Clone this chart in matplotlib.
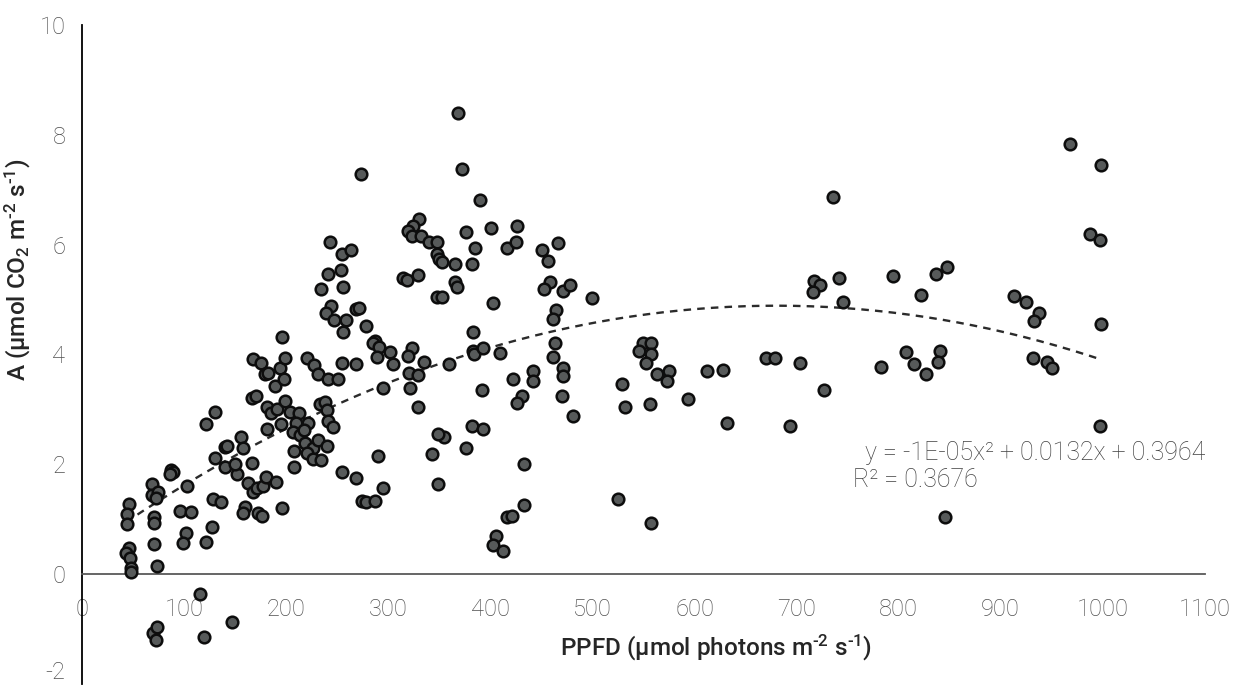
import numpy as np
import matplotlib
matplotlib.use("Agg")
import matplotlib.pyplot as plt

plt.rcParams['font.family'] = ['Roboto', 'DejaVu Sans']
plt.rcParams['mathtext.fontset'] = 'custom'
plt.rcParams['mathtext.rm'] = 'Roboto'
plt.rcParams['mathtext.default'] = 'regular'
plt.rcParams['axes.unicode_minus'] = False

# PPFD (µmol photons m-2 s-1)
ppfd = [
    46.0, 44.1, 44.1, 46.0, 43.1, 47.0, 48.0, 48.0, 68.6, 68.6, 74.4, 72.5, 70.5, 70.5, 70.5, 73.4,
    87.2, 89.1, 86.2, 102.8, 96.0, 106.7, 101.8, 98.9, 121.4, 127.3, 128.3, 136.1, 121.4, 130.3,
    130.3, 140.0, 142.0, 140.0, 151.8, 149.8, 155.7, 157.7, 166.5, 162.6, 167.5, 171.4, 177.3,
    180.2, 190.0, 159.6, 157.7, 172.4, 176.3, 195.9, 115.6, 69.5, 73.5, 72.5, 119.5, 146.9,
    167.5, 175.3, 179.2, 182.2, 193.9, 198.8, 189.0, 197.8, 166.5, 170.4, 181.2, 185.1, 191.0,
    181.2, 194.9, 198.8, 203.7, 212.5, 209.6, 221.3,
    220.4, 227.2, 231.1, 240.9, 250.7, 254.6, 268.4, 287.0, 285.0, 290.9, 301.6, 288.9, 304.6,
    323.2, 319.3, 334.9, 320.3, 329.1, 321.2, 329.1, 294.8, 278.1, 268.4, 271.3, 243.9, 239.0,
    246.8, 258.6, 255.6, 195.9, 234.1, 255.6, 240.9, 253.7, 254.6, 263.5, 242.9, 273.3, 233.1,
    238.0, 240.0, 240.9, 245.8, 206.7, 213.5, 217.4, 218.4, 226.2, 220.4, 226.2, 234.1, 207.6,
    207.6, 231.1, 240.0, 254.6, 268.4, 274.2, 278.1, 287.0, 294.8, 289.9,
    368.3, 372.2, 389.8, 330.1, 324.2, 319.3, 323.2, 332.0, 339.8, 347.7, 347.7, 349.6, 352.6,
    365.3, 382.0, 376.1, 384.9, 400.6, 426.0, 416.2, 425.0, 450.5, 456.4, 466.2, 314.4, 318.3,
    329.1, 365.3, 367.3, 347.7, 352.6, 402.5, 458.4, 452.5, 471.1, 477.9, 499.5, 464.2, 461.3,
    463.2, 461.3, 471.1, 471.1, 470.1, 480.9, 382.9, 382.9, 383.9, 392.7, 409.4, 359.4, 422.1,
    441.7, 441.7, 430.9, 426.0, 391.8, 382.0, 392.7, 354.5, 348.7, 376.1, 342.8, 348.7, 432.9,
    432.9, 416.2, 421.1, 405.5, 402.5, 412.3, 525.0, 557.3,
    549.4, 557.3, 545.5, 557.3, 552.4, 563.2, 574.9, 573.0, 528.9, 531.8, 556.3, 593.5,
    967.6, 998.0, 735.5, 987.2, 997.0, 847.2, 836.4, 794.3, 741.4, 716.9, 722.8, 715.9, 745.3,
    821.7, 912.8, 924.5, 937.3, 932.4, 998.0, 612.1, 627.8, 669.9, 678.7, 703.2, 782.5, 807.0,
    814.8, 826.6, 840.3, 838.4, 931.4, 945.1, 950.0, 726.7, 631.7, 693.4, 997.0, 845.2,
]

# A (µmol CO2 m-2 s-1)
assim = [
    1.27, 1.09, 0.91, 0.47, 0.38, 0.29, 0.11, 0.04, 1.64, 1.44, 1.49, 1.38, 1.04, 0.93, 0.55, 0.15,
    1.89, 1.85, 1.82, 1.60, 1.15, 1.13, 0.75, 0.56, 0.58, 0.85, 1.36, 1.31, 2.73, 2.95,
    2.11, 2.31, 2.33, 1.95, 1.82, 2.00, 2.49, 2.29, 2.02, 1.65, 1.49, 1.56, 1.60,
    1.76, 1.67, 1.22, 1.11, 1.11, 1.05, 1.20, -0.36, -1.07, -0.96, -1.20, -1.15, -0.87,
    3.91, 3.85, 3.64, 3.67, 3.76, 3.93, 3.42, 3.56, 3.20, 3.24, 3.05, 2.93, 3.00,
    2.65, 2.73, 3.15, 2.96, 2.93, 2.76, 2.76,
    3.93, 3.80, 3.65, 3.56, 3.56, 3.84, 3.82, 4.25, 4.20, 4.13, 4.05, 3.95, 3.82,
    4.11, 3.98, 3.87, 3.67, 3.62, 3.38, 3.05, 3.38, 4.51, 4.82, 4.84, 4.89, 4.75,
    4.62, 4.62, 4.40, 4.31, 5.20, 5.22, 5.47, 5.53, 5.82, 5.91, 6.04, 7.29, 3.09,
    3.13, 2.98, 2.78, 2.67, 2.58, 2.53, 2.62, 2.38, 2.29, 2.20, 2.09, 2.07, 2.25,
    1.95, 2.44, 2.33, 1.85, 1.75, 1.33, 1.31, 1.33, 1.56, 2.15,
    8.40, 7.38, 6.82, 6.47, 6.34, 6.25, 6.15, 6.15, 6.04, 6.04, 5.82, 5.74, 5.69,
    5.65, 5.65, 6.22, 5.93, 6.31, 6.33, 5.93, 6.04, 5.91, 5.71, 6.02, 5.40, 5.36,
    5.45, 5.31, 5.22, 5.04, 5.05, 4.93, 5.31, 5.20, 5.15, 5.27, 5.02, 4.80, 4.65,
    4.20, 3.95, 3.76, 3.60, 3.24, 2.87, 4.40, 4.07, 4.00, 4.11, 4.02, 3.82, 3.56,
    3.69, 3.51, 3.24, 3.11, 3.36, 2.69, 2.65, 2.49, 2.56, 2.29, 2.18, 1.64, 2.00,
    1.25, 1.04, 1.05, 0.69, 0.53, 0.42, 1.36, 0.93,
    4.20, 4.20, 4.07, 4.00, 3.84, 3.65, 3.69, 3.51, 3.47, 3.05, 3.09, 3.18,
    7.84, 7.45, 6.87, 6.20, 6.09, 5.60, 5.47, 5.42, 5.40, 5.33, 5.27, 5.13, 4.95,
    5.09, 5.07, 4.96, 4.75, 4.60, 4.55, 3.69, 3.71, 3.93, 3.93, 3.84, 3.78, 4.04,
    3.82, 3.65, 4.07, 3.87, 3.93, 3.87, 3.76, 3.36, 2.76, 2.69, 2.69, 1.04,
]

# polynomial trendline coefficients (a, b, c) as reported on the chart
trend_coef = [-0.97e-05, 0.0132, 0.3964]
equation_text = "y = -1E-05x\u00b2 + 0.0132x + 0.3964"
r2_text = "R\u00b2 = 0.3676"
x_title = "PPFD (µmol photons m$^{\u20102}$ s$^{\u20101}$)"
y_title = "A (µmol CO$_2$ m$^{\u20102}$ s$^{\u20101}$)"

x_ticks = [0, 100, 200, 300, 400, 500, 600, 700, 800, 900, 1000, 1100]
y_ticks = [-2, 0, 2, 4, 6, 8, 10]

fig = plt.figure(figsize=(12.47, 6.86), dpi=100)
ax = fig.add_axes([0.0658, 0.003, 0.9005, 0.9607])

ax.scatter(ppfd, assim, s=70, facecolor='#575a5a', edgecolor='#0d0d0d',
           linewidths=1.8, zorder=3)

xs = np.linspace(min(ppfd), max(ppfd), 300)
ys = np.polyval(trend_coef, xs)
ax.plot(xs, ys, linestyle=(0, (3.2, 2.6)), color='#2b2b2b', lw=1.7, zorder=2)

ax.set_xlim(0, 1100)
ax.set_ylim(-2, 10)
ax.set_xticks(x_ticks)
ax.set_yticks(y_ticks)

for s in ['top', 'right']:
    ax.spines[s].set_visible(False)
ax.spines['bottom'].set_position(('data', 0))
ax.spines['bottom'].set_color('#595959')
ax.spines['bottom'].set_linewidth(1.3)
ax.spines['left'].set_color('#000000')
ax.spines['left'].set_linewidth(1.3)

ax.tick_params(axis='x', length=0, pad=17, labelsize=17, labelcolor='#505050')
ax.tick_params(axis='y', length=0, pad=12, labelsize=17, labelcolor='#505050')
for lab in ax.get_xticklabels() + ax.get_yticklabels():
    lab.set_fontweight('light')
for lab in ax.get_yticklabels():
    if lab.get_text().strip() in ('-2', '\u22122'):
        lab.set_verticalalignment('bottom')

fig.text(716 / 1247, 1 - 648 / 686, x_title,
         ha='center', va='center', fontsize=17.5, fontweight='medium', color='#262626')
fig.text(18 / 1247, 1 - 270 / 686, y_title,
         ha='center', va='center', rotation=90, fontsize=17.5, fontweight='medium',
         color='#262626')

fig.text(865 / 1247, 1 - 453 / 686, equation_text, ha='left', va='center',
         fontsize=18, fontweight='light', color='#404040')
fig.text(853 / 1247, 1 - 480 / 686, r2_text, ha='left', va='center',
         fontsize=18, fontweight='light', color='#404040')

fig.savefig('out.png', dpi=100)
